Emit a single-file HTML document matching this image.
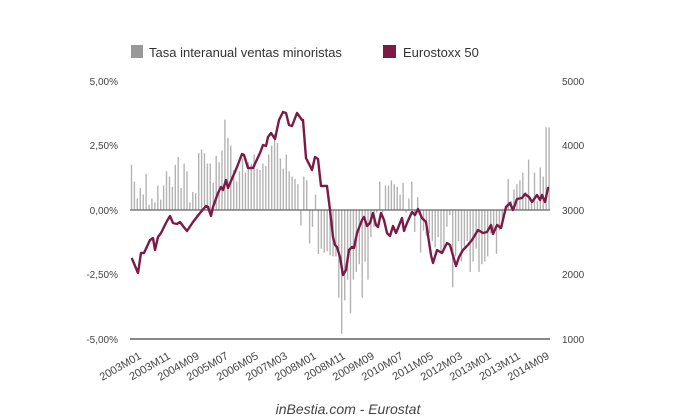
<!DOCTYPE html>
<html><head><meta charset="utf-8"><style>
html,body{margin:0;padding:0;background:#fff;}
svg{display:block;font-family:"Liberation Sans",Arial,sans-serif;}
</style></head><body>
<svg width="680" height="420" viewBox="0 0 680 420" xmlns="http://www.w3.org/2000/svg">
<rect x="0" y="0" width="680" height="420" fill="#fff"/>
<rect x="131" y="45" width="12" height="13" fill="#999"/>
<text x="149" y="57" font-size="13" fill="#333">Tasa interanual ventas minoristas</text>
<rect x="383" y="45" width="13" height="13" fill="#7a1a45"/>
<text x="403" y="57" font-size="13" fill="#333">Eurostoxx 50</text>
<g font-size="10" fill="#444" text-anchor="end">
<text x="118" y="85">5,00%</text>
<text x="118" y="149">2,50%</text>
<text x="118" y="214">0,00%</text>
<text x="118" y="278">-2,50%</text>
<text x="118" y="343">-5,00%</text>
</g>
<g font-size="10" fill="#444">
<text x="562" y="85">5000</text>
<text x="562" y="149">4000</text>
<text x="562" y="214">3000</text>
<text x="562" y="278">2000</text>
<text x="562" y="343">1000</text>
</g>
<g id="bars" stroke="#b3b3b3" stroke-width="1.4"></g>
<line x1="130" y1="210" x2="550" y2="210" stroke="#666" stroke-width="1.3"/>
<line x1="130" y1="339" x2="550" y2="339" stroke="#888" stroke-width="2"/>
<polyline fill="none" stroke="#7a1a45" stroke-width="2.4" stroke-linejoin="round" points="
131.7,258 138,273 141,253 144,253 150,240 153,238 155,250 158,237 161,233 167,221 170,216 173,223 177,224 180,222 183,226 187,231 193,222 200,213 206,206 208,207 211,216 213,207 218,193 221,187 223,190 226,180 228,188 237,167 242,154 244,155 248,168 253,168 260,153 263,145 266,146 268,137 271,133 275,139 279,120 283,112 286,113 289,125 292,126 297,113 302,120 303,120 306,158 312,170 315,157 318,159 321,186 327,186 330,210 333,237 335,245 337,247 340,257 343,275 346,270 349,250 352,247 354,248 357,233 362,220 364,217 367,226 370,223 373,213 376,225 378,227 381,213 384,220 387,233 390,236 393,226 396,233 402,218 404,231 407,223 412,212 415,215 418,209 422,218 426,222 431,255 433,263 437,250 442,253 447,243 450,245 452,252 456,266 459,257 463,250 467,246 472,240 478,230 483,233 487,232 491,225 493,234 497,225 501,228 506,207 510,203 513,210 517,199 522,198 525,194 529,197 532,202 537,195 540,200 542,195 545,202 548,188 549,188"/>
<g font-size="11" fill="#444" text-anchor="end">
<text transform="translate(142,358) rotate(-30)">2003M01</text>
<text transform="translate(171,358) rotate(-30)">2003M11</text>
<text transform="translate(200,358) rotate(-30)">2004M09</text>
<text transform="translate(229,358) rotate(-30)">2005M07</text>
<text transform="translate(259,358) rotate(-30)">2006M05</text>
<text transform="translate(288,358) rotate(-30)">2007M03</text>
<text transform="translate(317,358) rotate(-30)">2008M01</text>
<text transform="translate(346,358) rotate(-30)">2008M11</text>
<text transform="translate(375,358) rotate(-30)">2009M09</text>
<text transform="translate(404,358) rotate(-30)">2010M07</text>
<text transform="translate(434,358) rotate(-30)">2011M05</text>
<text transform="translate(463,358) rotate(-30)">2012M03</text>
<text transform="translate(492,358) rotate(-30)">2013M01</text>
<text transform="translate(521,358) rotate(-30)">2013M11</text>
<text transform="translate(550,358) rotate(-30)">2014M09</text>
</g>
<text x="348" y="414" font-size="14" font-style="italic" fill="#444" text-anchor="middle">inBestia.com - Eurostat</text>
</svg>
<script>
var v=[1.75,1.1,0.45,0.85,0.6,1.4,0.2,0.45,0.3,0.95,0.4,0.95,
1.5,1.3,0.9,1.75,2.05,0.85,1.8,1.5,0.3,0.7,0.65,2.2,
2.35,2.2,1.8,1.8,1.05,2.1,1.85,2.3,3.5,2.8,2.5,1.55,
1.1,1.5,2.0,1.45,1.85,1.8,2.15,1.6,1.55,1.8,1.7,2.15,
2.5,2.95,2.6,2.0,1.6,2.15,1.5,1.3,1.2,1.0,-0.6,1.3,
1.15,-1.3,-0.65,0.6,-1.7,-1.5,-1.65,-1.6,-1.75,-1.8,-1.8,-3.4,
-4.8,-3.5,-2.7,-4.0,-2.7,-2.4,-2.1,-3.4,-2.0,-2.7,-1.05,-0.65,
-0.1,1.1,-0.1,0.95,0.95,1.15,1.0,0.9,0.6,1.05,-0.1,0.45,
1.1,-0.85,0.5,-1.65,-0.8,-1.0,-0.9,-1.2,-1.45,-1.05,-1.7,-1.5,
-0.65,-0.2,-3.0,-1.8,-1.2,-2.0,-1.45,-1.2,-2.4,-2.0,-1.5,-2.4,
-2.1,-2.0,-1.8,-0.9,-0.9,-1.7,-0.8,-0.65,-0.1,1.2,0.35,0.8,
1.0,1.15,1.45,0.7,1.95,0.35,1.45,0.35,1.65,1.3,3.2,3.2];
var g=document.getElementById('bars'),s='';
for(var i=0;i<v.length;i++){var x=(131.5+i*2.92).toFixed(1);var y=(210-v[i]*25.8).toFixed(1);
s+='<line x1="'+x+'" x2="'+x+'" y1="210" y2="'+y+'"/>';}
g.innerHTML=s;
</script>
</body></html>
